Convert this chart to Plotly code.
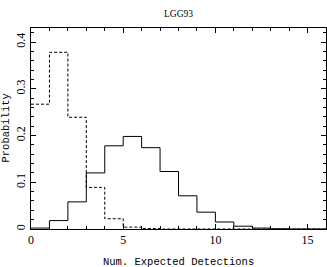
import plotly.graph_objects as go

bin_edges = list(range(0, 17))
solid_prob = [0.002, 0.018, 0.058, 0.120, 0.178, 0.198, 0.174, 0.123, 0.071,
              0.036, 0.015, 0.006, 0.002, 0.0005, 0.0, 0.0]
dashed_prob = [0.267, 0.378, 0.239, 0.089, 0.022, 0.004, 0.001, 0.0, 0.0,
               0.0, 0.0, 0.0, 0.0, 0.0, 0.0, 0.0]
title_text = "LGG93"
x_label = "Num. Expected Detections"
y_label = "Probability"

fig = go.Figure()
fig.add_trace(go.Scatter(x=bin_edges, y=solid_prob + [solid_prob[-1]], mode="lines",
                         line=dict(shape="hv", color="black", width=1)))
fig.add_trace(go.Scatter(x=bin_edges, y=dashed_prob + [dashed_prob[-1]], mode="lines",
                         line=dict(shape="hv", color="black", width=1, dash="3px,2px")))

mono = "Liberation Mono, Courier New, monospace"
serif = "Liberation Serif, serif"
W, H = 327, 267
L, R, T, B = 31, 1, 28, 38
fig.update_layout(
    width=W, height=H,
    margin=dict(l=L, r=R, t=T, b=B, autoexpand=False),
    paper_bgcolor="white", plot_bgcolor="white",
    showlegend=False,
    font=dict(family=mono, color="black"),
    annotations=[
        dict(text=title_text, xref="paper", yref="paper", x=0.5, y=1 + (28 - 14) / (H - T - B),
             xanchor="center", yanchor="middle", showarrow=False,
             font=dict(family=serif, size=9.5, color="black")),
        dict(text=x_label, xref="paper", yref="paper", x=0.5, y=-(262 - (H - B)) / (H - T - B),
             xanchor="center", yanchor="middle", showarrow=False,
             font=dict(family=mono, size=10.5, color="black")),
        dict(text=y_label, xref="paper", yref="paper", x=-(L - 5) / (W - L - R), y=0.5,
             xanchor="center", yanchor="middle", showarrow=False, textangle=-90,
             font=dict(family=mono, size=10.5, color="black")),
    ],
)
fig.update_xaxes(range=[0, 16], showgrid=False, zeroline=False, automargin=False,
                 showline=True, linecolor="black", linewidth=1, mirror="allticks",
                 ticks="inside", ticklen=5, tickcolor="black", dtick=5, tick0=0,
                 minor=dict(ticks="inside", ticklen=3, dtick=1, tickcolor="black"),
                 tickfont=dict(family=serif, size=12))
fig.update_yaxes(range=[0, 0.43], showgrid=False, zeroline=False, automargin=False,
                 showline=True, linecolor="black", linewidth=1, mirror="allticks",
                 ticks="inside", ticklen=5, tickcolor="black", dtick=0.1, tick0=0,
                 minor=dict(ticks="inside", ticklen=3, dtick=0.02, tickcolor="black"),
                 tickangle=-90, tickfont=dict(family=serif, size=12))

fig.write_html("out.html", config={"displayModeBar": False},
               post_script="document.body.style.margin='0';")
